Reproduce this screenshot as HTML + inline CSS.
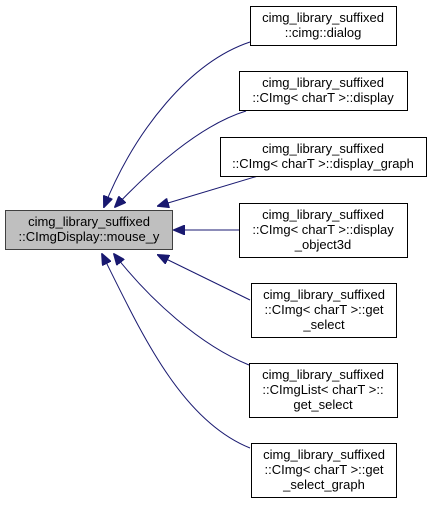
<!DOCTYPE html>
<html><head><style>
body{margin:0;background:#fff}
svg text{font-family:"Liberation Sans",sans-serif;font-size:13px;fill:#000}
</style></head><body>
<svg width="432" height="503" viewBox="0 0 432 503">
<defs><marker id="a" markerWidth="12" markerHeight="10" refX="11" refY="5" orient="auto" markerUnits="userSpaceOnUse"><path d="M0,0 L12,5 L0,10 z" fill="#191970" stroke="#191970"/></marker></defs>
<g fill="none" stroke="#191970" stroke-width="1">
<path d="M250,42 C190,62 135,130 104,207" marker-end="url(#a)"/>
<path d="M246,111 C200,125 150,170 115,207" marker-end="url(#a)"/>
<path d="M258,176 L158,206" marker-end="url(#a)"/>
<path d="M239,230 L174,230" marker-end="url(#a)"/>
<path d="M250,300 L158,255" marker-end="url(#a)"/>
<path d="M249,365 C200,345 150,300 114,254" marker-end="url(#a)"/>
<path d="M250,448 C180,420 140,330 102,254" marker-end="url(#a)"/>
</g>
<g stroke="#000" stroke-width="1">
<rect x="5.5" y="210.5" width="167" height="39" fill="#bfbfbf" stroke="#404040"/>
<rect x="250.5" y="6.5" width="146" height="39" fill="#fff"/>
<rect x="239.5" y="71.5" width="168" height="39" fill="#fff"/>
<rect x="220.5" y="137.5" width="206" height="39" fill="#fff"/>
<rect x="239.5" y="203.5" width="168" height="54" fill="#fff"/>
<rect x="251.5" y="283.5" width="145" height="54" fill="#fff"/>
<rect x="249.5" y="363.5" width="148" height="54" fill="#fff"/>
<rect x="251.5" y="443.5" width="145" height="54" fill="#fff"/>
</g>
<g text-anchor="middle">
<text x="89" y="226">cimg_library_suffixed</text><text x="89" y="241">::CImgDisplay::mouse_y</text>
<text x="323" y="22">cimg_library_suffixed</text><text x="323" y="37">::cimg::dialog</text>
<text x="323" y="87">cimg_library_suffixed</text><text x="323" y="102">::CImg&lt; charT &gt;::display</text>
<text x="323" y="153">cimg_library_suffixed</text><text x="323" y="168">::CImg&lt; charT &gt;::display_graph</text>
<text x="323" y="219">cimg_library_suffixed</text><text x="323" y="234">::CImg&lt; charT &gt;::display</text><text x="323" y="249">_object3d</text>
<text x="324" y="299">cimg_library_suffixed</text><text x="324" y="314">::CImg&lt; charT &gt;::get</text><text x="324" y="329">_select</text>
<text x="323" y="379">cimg_library_suffixed</text><text x="323" y="394">::CImgList&lt; charT &gt;::</text><text x="323" y="409">get_select</text>
<text x="324" y="459">cimg_library_suffixed</text><text x="324" y="474">::CImg&lt; charT &gt;::get</text><text x="324" y="489">_select_graph</text>
</g>
</svg>
</body></html>
